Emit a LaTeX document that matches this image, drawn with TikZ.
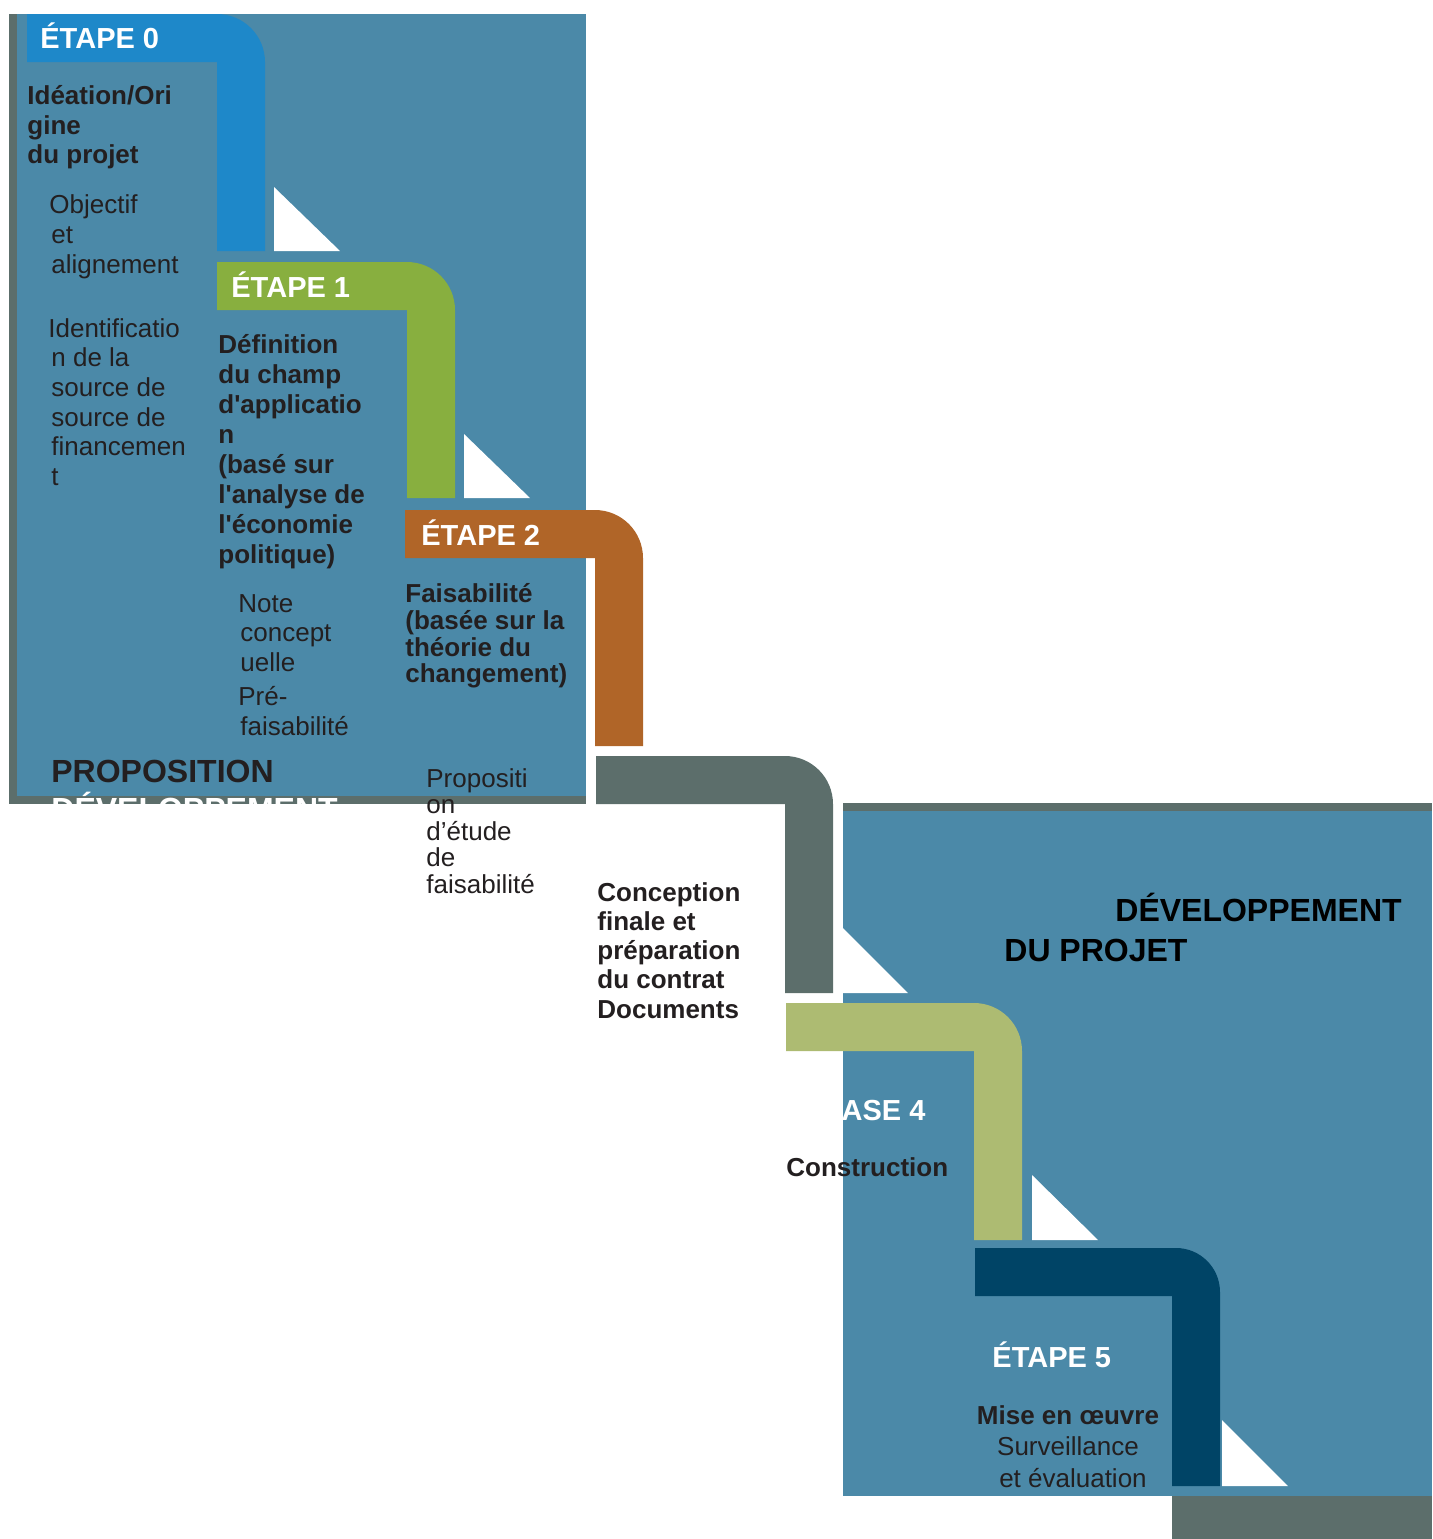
\documentclass[tikz,border=0pt]{standalone}
\usepackage{fontspec}
\setmainfont{Liberation Sans}
\definecolor{fond}{HTML}{4B89A8}
\definecolor{bord}{HTML}{5C6E6B}
\definecolor{bleu}{HTML}{1E88C9}
\definecolor{vert}{HTML}{88AF3F}
\definecolor{brun}{HTML}{B06528}
\definecolor{olive}{HTML}{ADBB72}
\definecolor{marine}{HTML}{004466}
\definecolor{encre}{HTML}{231F20}
\tikzstyle{etape}=[anchor=base west,inner sep=0pt,text=white,font=\fontsize{14.5}{17}\selectfont\bfseries]
\tikzstyle{titre}=[anchor=north west,inner sep=0pt,align=left,text=encre,font=\fontsize{13}{14.8}\selectfont\bfseries]
\tikzstyle{corps}=[anchor=north west,inner sep=0pt,align=left,text=encre,font=\fontsize{13}{14.8}\selectfont]
\tikzstyle{gros}=[anchor=base west,inner sep=0pt,text=black,font=\fontsize{16}{20}\selectfont\bfseries]
\tikzstyle{coin}=[fill=white]

\begin{document}
\begin{tikzpicture}[x=0.5pt,y=-0.5pt]
\useasboundingbox (0,0) rectangle (1432,1539);
% the two panels
\fill[bord] (9,14) rectangle (586,804);
\fill[fond] (17,14) rectangle (586,796);
\fill[bord] (843,803) rectangle (1432,1496);
\fill[fond] (843,811) rectangle (1432,1496);
\fill[bord] (1172,1496) rectangle (1432,1539);
% the steps
\fill[bleu] (27,14) -- (217,14) arc[start angle=-90,end angle=0,radius=48] -- (265,251) -- (217,251) -- (217,62) -- (27,62) -- cycle;
\fill[vert] (217,262) -- (407,262) arc[start angle=-90,end angle=0,radius=48] -- (455,498) -- (407,498) -- (407,310) -- (217,310) -- cycle;
\fill[brun] (405,510) -- (595,510) arc[start angle=-90,end angle=0,radius=48] -- (643,746) -- (595,746) -- (595,558) -- (405,558) -- cycle;
\fill[bord] (596,756) -- (785,756) arc[start angle=-90,end angle=0,radius=48] -- (833,993) -- (785,993) -- (785,804) -- (596,804) -- cycle;
\fill[olive] (786,1003) -- (974,1003) arc[start angle=-90,end angle=0,radius=48] -- (1022,1240) -- (974,1240) -- (974,1051) -- (786,1051) -- cycle;
\fill[marine] (975,1248) -- (1176,1248) arc[start angle=-90,end angle=0,radius=44] -- (1220,1486) -- (1172,1486) -- (1172,1296) -- (975,1296) -- cycle;
% white corners
\fill[coin] (274,187) -- (274,251) -- (340,251) -- cycle;
\fill[coin] (464,434) -- (464,498) -- (530,498) -- cycle;
\fill[coin] (843,928) -- (843,993) -- (908,993) -- cycle;
\fill[coin] (1032,1175) -- (1032,1240) -- (1098,1240) -- cycle;
\fill[coin] (1222,1420) -- (1222,1486) -- (1288,1486) -- cycle;
% texts
\node[etape] (e0) at (40,48) {ÉTAPE 0};
\node[titre] (ideation) at (27,85) {Idéation/Ori\\gine\\du projet};
\node[corps,font=\fontsize{13}{15}\selectfont] (objectif) at (49,194) {Objectif\\\kern1pt et\\\kern1pt alignement};
\node[corps] (identif) at (48,318) {Identificatio\\\kern1.5pt n de la\\\kern1.5pt source de\\\kern1.5pt source de\\\kern1.5pt financemen\\\kern1.5pt t};
\node[etape] (e1) at (231,297) {ÉTAPE 1};
\node[titre,font=\fontsize{13}{15}\selectfont\bfseries] (definition) at (218,334) {Définition\\du champ\\d\textquotesingle applicatio\\n\\(basé sur\\l\textquotesingle analyse de\\l\textquotesingle économie\\politique)};
\node[corps] (note) at (238,594) {Note\\\kern1pt concept\\\kern1pt uelle};
\node[corps] (prefais) at (238,686) {Pré-\\\kern1pt faisabilité};
\node[gros,text=encre] (propA) at (51,782) {PROPOSITION};
\node[gros,text=white] (devA) at (51,820) {DÉVELOPPEMENT};
\node[etape] (e2) at (421,545) {ÉTAPE 2};
\node[titre,font=\fontsize{13}{13.4}\selectfont\bfseries] (faisab) at (405,583) {Faisabilité\\(basée sur la\\théorie du\\changement)};
\node[corps,font=\fontsize{13}{13.25}\selectfont] (etude) at (426,768) {Propositi\\on\\d’étude\\de\\faisabilité};
\node[titre,font=\fontsize{13}{14.6}\selectfont\bfseries] (conception) at (597,882) {Conception\\finale et\\préparation\\du contrat\\Documents};
\node[gros] (devB) at (1115,921) {DÉVELOPPEMENT};
\node[gros] (projet) at (1004,961) {DU PROJET};
\node[etape] (e4) at (801,1120) {PHASE 4};
\node[titre,anchor=base west] (construction) at (786,1176) {Construction};
\node[etape] (e5) at (992,1367) {ÉTAPE 5};
\node[corps,anchor=north,align=center,font=\fontsize{13}{15.8}\selectfont] (oeuvre) at (1068,1405) {\textbf{Mise en œuvre}\\Surveillance\\\kern5pt et évaluation};
\end{tikzpicture}
\end{document}
